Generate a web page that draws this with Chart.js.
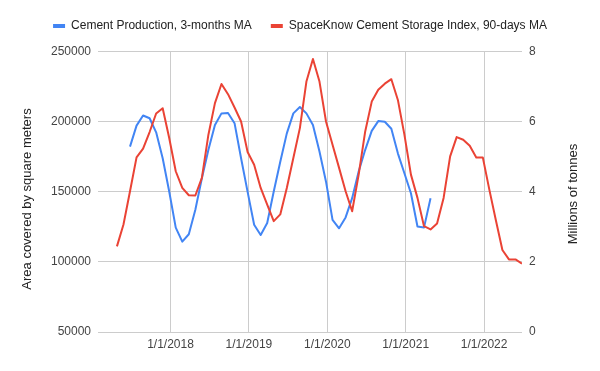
<!DOCTYPE html>
<html>
<head>
<meta charset="utf-8">
<script src="https://cdn.jsdelivr.net/npm/chart.js@4"></script>
<style>
  html, body { margin: 0; padding: 0; background: #ffffff; }
  #wrap { width: 600px; height: 371px; }
</style>
</head>
<body>
<div id="wrap"><canvas id="c" width="600" height="371"></canvas></div>
<script>
// ---- Data ----
const months = [
  '2017-05','2017-06','2017-07','2017-08','2017-09','2017-10','2017-11','2017-12',
  '2018-01','2018-02','2018-03','2018-04','2018-05','2018-06','2018-07','2018-08','2018-09','2018-10','2018-11','2018-12',
  '2019-01','2019-02','2019-03','2019-04','2019-05','2019-06','2019-07','2019-08','2019-09','2019-10','2019-11','2019-12',
  '2020-01','2020-02','2020-03','2020-04','2020-05','2020-06','2020-07','2020-08','2020-09','2020-10','2020-11','2020-12',
  '2021-01','2021-02','2021-03','2021-04','2021-05','2021-06','2021-07','2021-08','2021-09','2021-10','2021-11','2021-12',
  '2022-01','2022-02','2022-03','2022-04','2022-05','2022-06','2022-07'
];

// SpaceKnow Cement Storage Index, 90-days MA (square meters) - left axis
const storageIndex = [
  111100,126700,150400,174600,180800,192700,205900,209700,
  188400,164700,152800,147600,147400,160000,190800,213300,227000,219700,210200,200200,
  178500,169400,152800,140900,129100,133900,152800,174200,195500,228700,244800,228700,
  200200,183600,167100,150400,136200,162300,193100,214400,222800,227200,230400,215600,
  190800,162300,145700,125500,123200,127500,145700,175300,189100,187200,182900,174600,
  174600,151600,129800,108500,101800,101800,98800
];

// Cement Production, 3-months MA (millions of tonnes) - right axis
const production = [
  null,null,5.29,5.89,6.18,6.10,5.70,4.96,
  4.01,2.98,2.58,2.79,3.49,4.39,5.20,5.91,6.24,6.25,5.96,4.96,
  4.00,3.06,2.77,3.11,4.01,4.86,5.67,6.24,6.42,6.24,5.91,5.15,
  4.29,3.20,2.96,3.27,3.82,4.58,5.20,5.74,6.02,6.00,5.80,5.10,
  4.53,3.96,3.01,2.98,3.82,null,null,null,null,null,null,null,
  null,null,null,null,null,null,null
];

const seriesNames = ['Cement Production, 3-months MA', 'SpaceKnow Cement Storage Index, 90-days MA'];
const xTickLabels = ['1/1/2018','1/1/2019','1/1/2020','1/1/2021','1/1/2022'];
const leftTicks = [50000, 100000, 150000, 200000, 250000];
const rightTicks = [0, 2, 4, 6, 8];
const leftTitle = 'Area covered by square meters';
const rightTitle = 'Millions of tonnes';

// ---- Helpers ----
const X_SHIFT = -0.2;   // data points sit slightly before the month start
const X_MIN = -11.1;    // axis extends left of the first point
function monthPos(s) {
  const [y, m] = s.split('-').map(Number);
  return (y - 2018) * 12 + (m - 1) + X_SHIFT;
}
function tickPos(label) {
  const y = parseInt(label.split('/')[2], 10);
  return (y - 2018) * 12;
}
function toPoints(vals) {
  const pts = [];
  vals.forEach((v, i) => { if (v !== null) pts.push({ x: monthPos(months[i]), y: v }); });
  return pts;
}

const BLUE = '#4285F4';
const RED = '#EA4335';
const FONT = '"Liberation Sans", Arial, sans-serif';

Chart.defaults.font.family = FONT;
Chart.defaults.font.size = 12;

const axisTitles = {
  id: 'axisTitles',
  afterDraw(chart) {
    const ctx = chart.ctx;
    ctx.save();
    ctx.font = '13px ' + FONT;
    ctx.fillStyle = '#222222';
    ctx.textAlign = 'center';
    ctx.textBaseline = 'middle';
    ctx.translate(27, 199);
    ctx.rotate(-Math.PI / 2);
    ctx.fillText(leftTitle, 0, 0);
    ctx.restore();
    ctx.save();
    ctx.font = '13px ' + FONT;
    ctx.fillStyle = '#222222';
    ctx.textAlign = 'center';
    ctx.textBaseline = 'middle';
    ctx.translate(573, 194);
    ctx.rotate(-Math.PI / 2);
    ctx.fillText(rightTitle, 0, 0);
    ctx.restore();
  }
};

new Chart(document.getElementById('c'), {
  type: 'line',
  data: {
    datasets: [
      {
        label: seriesNames[0],
        data: toPoints(production),
        yAxisID: 'y1',
        borderColor: BLUE,
        backgroundColor: BLUE,
        borderWidth: 2,
        pointRadius: 0,
        tension: 0,
        fill: false,
        borderJoinStyle: 'round',
        order: 1
      },
      {
        label: seriesNames[1],
        data: toPoints(storageIndex),
        yAxisID: 'y',
        borderColor: RED,
        backgroundColor: RED,
        borderWidth: 2,
        pointRadius: 0,
        tension: 0,
        fill: false,
        borderJoinStyle: 'round',
        order: 0
      }
    ]
  },
  options: {
    responsive: false,
    devicePixelRatio: 1,
    animation: false,
    layout: { padding: { top: 1, left: 0, right: 0, bottom: 0 } },
    plugins: {
      legend: {
        position: 'top',
        align: 'center',
        weight: 3000,
        labels: {
          boxWidth: 12,
          boxHeight: 4,
          padding: 19,
          color: '#222222',
          font: { size: 12, family: FONT },
          sort: (a, b) => a.datasetIndex - b.datasetIndex,
          generateLabels: (chart) => {
            const items = Chart.defaults.plugins.legend.labels.generateLabels(chart);
            items.forEach(it => { it.lineWidth = 0; it.fillStyle = it.strokeStyle; });
            return items;
          }
        }
      },
      title: {
        display: true,
        text: '',
        position: 'top',
        weight: 500,
        padding: 0,
        font: { size: 8.1 }
      },
      tooltip: { enabled: false }
    },
    scales: {
      x: {
        type: 'linear',
        min: X_MIN,
        max: monthPos(months[months.length - 1]),
        afterBuildTicks: (scale) => {
          scale.ticks = xTickLabels.map(l => ({ value: tickPos(l) }));
        },
        afterFit: (scale) => { scale.height = 39; },
        ticks: {
          autoSkip: false,
          maxRotation: 0,
          minRotation: 0,
          padding: 5,
          color: '#444444',
          font: { size: 12 },
          callback: (v) => {
            const i = xTickLabels.findIndex(l => tickPos(l) === v);
            return i >= 0 ? xTickLabels[i] : '';
          }
        },
        grid: { color: '#cccccc', lineWidth: 1, drawTicks: false },
        border: { display: false }
      },
      y: {
        position: 'left',
        min: leftTicks[0],
        max: leftTicks[leftTicks.length - 1],
        afterBuildTicks: (scale) => { scale.ticks = leftTicks.map(v => ({ value: v })); },
        afterFit: (scale) => { scale.width = 98; },
        ticks: {
          padding: 7,
          color: '#444444',
          font: { size: 12 },
          callback: (v) => String(v)
        },
        grid: { color: '#cccccc', lineWidth: 1, drawTicks: false },
        border: { display: false }
      },
      y1: {
        position: 'right',
        min: rightTicks[0],
        max: rightTicks[rightTicks.length - 1],
        afterBuildTicks: (scale) => { scale.ticks = rightTicks.map(v => ({ value: v })); },
        afterFit: (scale) => { scale.width = 78; },
        ticks: {
          padding: 7,
          color: '#444444',
          font: { size: 12 },
          callback: (v) => String(v)
        },
        grid: { display: false, drawOnChartArea: false, drawTicks: false },
        border: { display: false }
      }
    }
  },
  plugins: [axisTitles]
});
</script>
</body>
</html>
